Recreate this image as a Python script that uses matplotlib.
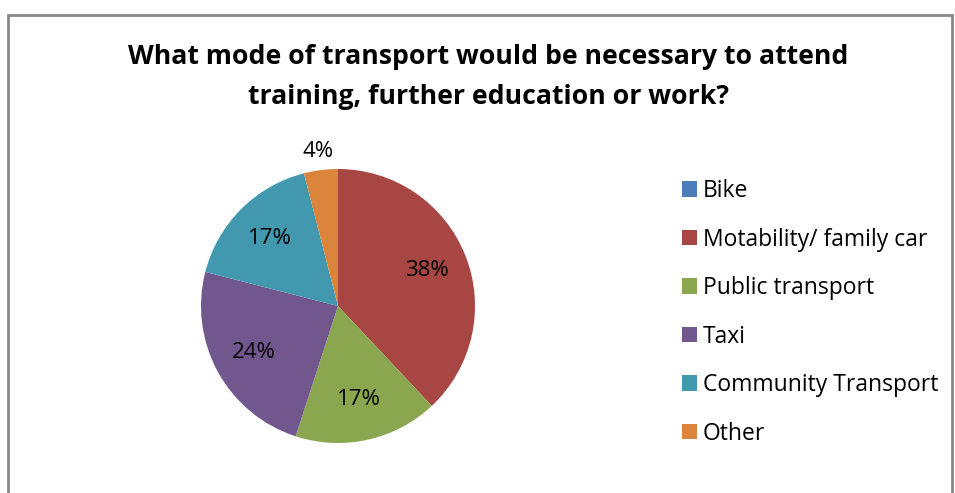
import numpy as np
import matplotlib.pyplot as plt
from matplotlib.patches import Rectangle, Patch

# Data
categories = ['Bike', 'Motability/ family car', 'Public transport', 'Taxi',
              'Community Transport', 'Other']
shares = [0, 38, 17, 24, 17, 4]
colors = ['#4A7EBB', '#A84644', '#8AA64F', '#72578F', '#4198AF', '#DA843C']

plt.rcParams['font.family'] = ['Open Sans', 'DejaVu Sans']

W, H = 955, 493
fig = plt.figure(figsize=(W / 100, H / 100), dpi=100)

# outer chart frame (bottom edge falls outside the picture)
fig.add_artist(Rectangle((8 / W, -0.05), (952 - 8) / W, (H - 15) / H + 0.05,
                         transform=fig.transFigure, fill=False,
                         edgecolor='#878787', linewidth=2))

fig.text(488 / W, 1 - 77 / H,
         'What mode of transport would be necessary to attend\ntraining, further education or work?',
         ha='center', va='center', fontsize=19.2, fontweight='bold',
         linespacing=1.65, color='black')

# pie axes
cx, cy, r = 338, 306, 137
ax = fig.add_axes([(cx - r) / W, (H - cy - r) / H, 2 * r / W, 2 * r / H])
wedges, texts, autotexts = ax.pie(
    shares, colors=colors, startangle=90, counterclock=False,
    autopct=lambda p: '' if p < 0.5 else f'{p:.0f}%',
    pctdistance=0.7, textprops={'fontsize': 16, 'color': 'black'},
    wedgeprops={'linewidth': 0})
ax.set_xlim(-1, 1)
ax.set_ylim(-1, 1)

# small slice label goes outside
for w, t, v in zip(wedges, autotexts, shares):
    if 0 < v < 5:
        ang = np.deg2rad((w.theta1 + w.theta2) / 2)
        t.set_position((1.14 * np.cos(ang), 1.14 * np.sin(ang)))

handles = [Patch(facecolor=c, edgecolor='none') for c in colors]
fig.legend(handles, categories, loc='upper left', bbox_to_anchor=(682 / W, 1 - 179 / H),
           frameon=False, fontsize=16.5, handlelength=0.655, handleheight=0.655,
           handletextpad=0.26, labelspacing=1.07, borderpad=0, borderaxespad=0)

fig.savefig('out.png', dpi=100)
